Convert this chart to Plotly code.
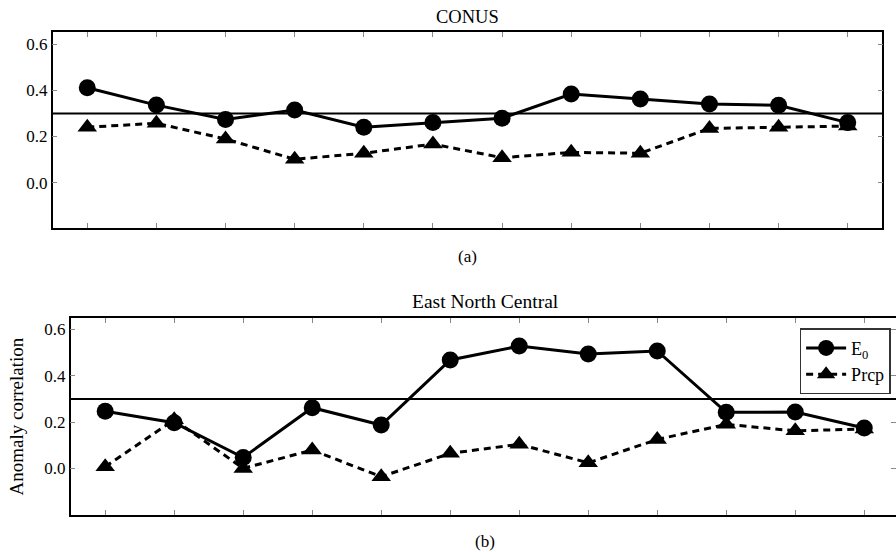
import plotly.graph_objects as go

W, H = 896, 552

months = list(range(12))
tick_vals_y = [0.0, 0.2, 0.4, 0.6]

conus_e0 = [0.411, 0.336, 0.274, 0.315, 0.240, 0.261, 0.279, 0.384, 0.362, 0.341, 0.335, 0.260]
conus_prcp = [0.240, 0.257, 0.189, 0.101, 0.127, 0.167, 0.108, 0.131, 0.127, 0.235, 0.240, 0.245]

enc_e0 = [0.247, 0.197, 0.047, 0.262, 0.187, 0.468, 0.528, 0.494, 0.507, 0.242, 0.243, 0.174]
enc_prcp = [0.007, 0.210, 0.000, 0.079, -0.036, 0.065, 0.104, 0.024, 0.125, 0.190, 0.162, 0.170]

threshold = 0.3
FONT = "'Liberation Serif', 'DejaVu Serif', serif"

fig = go.Figure()

def add_panel(e0, prcp, xa, ya, show_legend):
    fig.add_trace(go.Scatter(
        x=months, y=e0, mode="lines+markers", name="E<sub>0</sub>",
        line=dict(color="black", width=3),
        marker=dict(symbol="circle", size=17, color="black"),
        xaxis=xa, yaxis=ya, showlegend=show_legend))
    fig.add_trace(go.Scatter(
        x=months, y=prcp, mode="lines+markers", name="Prcp",
        line=dict(color="black", width=3, dash="7px,5px"),
        marker=dict(symbol="triangle-up", size=17, color="black"),
        xaxis=xa, yaxis=ya, showlegend=show_legend))

add_panel(conus_e0, conus_prcp, "x", "y", False)
add_panel(enc_e0, enc_prcp, "x2", "y2", True)

# domains from pixel positions
top_x = [52.7 / W, 882.3 / W]
top_y = [1 - 228 / H, 1 - 32 / H]
bot_x = [70.7 / W, 1.0]
bot_y = [1 - 514.7 / H, 1 - 318.3 / H]

axis_common = dict(showline=True, linecolor="black", linewidth=1.5, mirror="ticks",
                   ticks="inside", ticklen=5, tickcolor="#888", tickwidth=1,
                   showgrid=False, zeroline=False)

fig.update_layout(
    width=W, height=H,
    margin=dict(l=0, r=0, t=0, b=0),
    paper_bgcolor="white", plot_bgcolor="white",
    font=dict(family=FONT, size=17, color="black"),
    xaxis=dict(domain=top_x, range=[-0.5, 11.5], tickvals=months, showticklabels=False,
               anchor="y", automargin=False, **axis_common),
    yaxis=dict(domain=top_y, range=[-0.197, 0.653], tickvals=tick_vals_y, tickformat=".1f",
               anchor="x", automargin=False, tickfont=dict(family=FONT, size=17),
               **axis_common),
    xaxis2=dict(domain=bot_x, range=[-0.5, 11.46], tickvals=months, showticklabels=False,
                anchor="y2", automargin=False, **axis_common),
    yaxis2=dict(domain=bot_y, range=[-0.2, 0.648], tickvals=tick_vals_y, tickformat=".1f",
                anchor="x2", automargin=False, tickfont=dict(family=FONT, size=17),
                **axis_common),
    legend=dict(x=0.994, y=bot_y[1] - 0.018, xanchor="right", yanchor="top",
                bordercolor="#333", borderwidth=1.5, bgcolor="white",
                font=dict(family=FONT, size=18), itemwidth=40, tracegroupgap=0),
    showlegend=True,
)

for xref, yref in [("x domain", "y"), ("x2 domain", "y2")]:
    fig.add_shape(type="line", x0=0, x1=1, y0=threshold, y1=threshold,
                  xref=xref, yref=yref, line=dict(color="black", width=2))

ann = [
    dict(text="CONUS", x=467.5 / W, y=1 - 17 / H, size=18.5),
    dict(text="(a)", x=467.5 / W, y=1 - 256.5 / H, size=17),
    dict(text="East North Central", x=485 / W, y=1 - 301.5 / H, size=19.5),
    dict(text="(b)", x=485 / W, y=1 - 541.5 / H, size=17),
]
for a in ann:
    fig.add_annotation(text=a["text"], x=a["x"], y=a["y"], xref="paper", yref="paper",
                       xanchor="center", yanchor="middle", showarrow=False,
                       font=dict(family=FONT, size=a["size"], color="black"))
fig.add_annotation(text="Anomaly correlation", x=16 / W, y=1 - 416.5 / H,
                   xref="paper", yref="paper", textangle=-90, showarrow=False,
                   xanchor="center", yanchor="middle",
                   font=dict(family=FONT, size=19, color="black"))

fig.write_html("out.html")
